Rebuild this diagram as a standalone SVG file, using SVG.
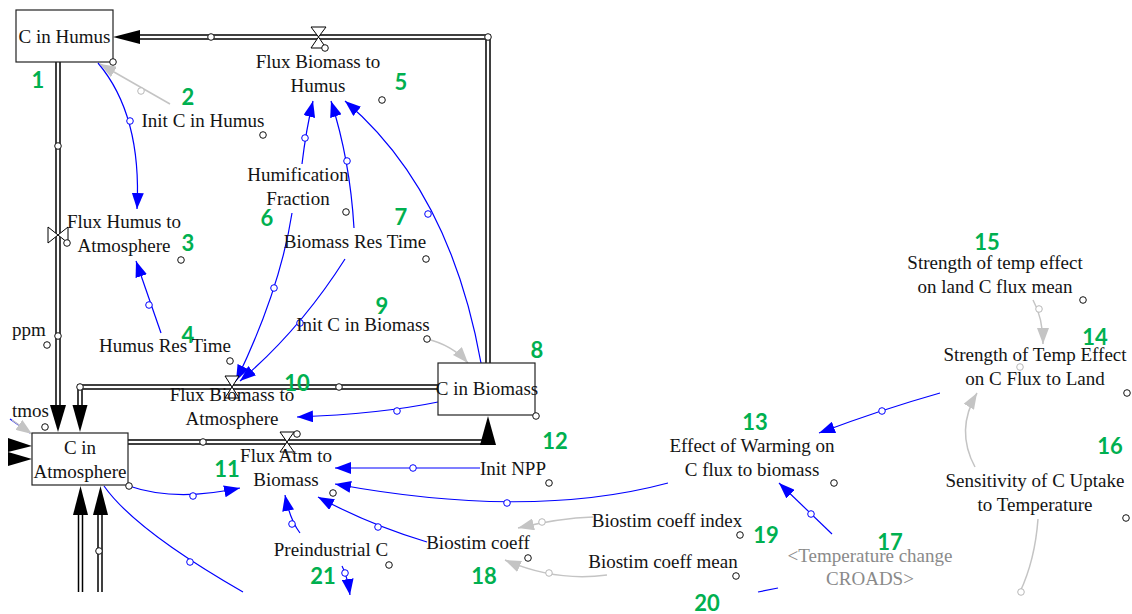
<svg xmlns="http://www.w3.org/2000/svg" width="1132" height="614" viewBox="0 0 1132 614">
<style>
.lbl{font-family:'Liberation Serif','DejaVu Serif',serif;font-size:19px;fill:#141414;text-anchor:middle}
.gt{fill:#8a8a8a}
.num{font-family:Lato,'Liberation Sans',sans-serif;font-weight:bold;font-size:22px;fill:#00b050;text-anchor:middle}
.box{fill:#fff;stroke:#222;stroke-width:1.2}
.h{fill:#fff;stroke:#111;stroke-width:1}
.hb{fill:#fff;stroke:#00f;stroke-width:1}
.hg{fill:#fff;stroke:#b8b8b8;stroke-width:1}
.blue{fill:none;stroke:#00f;stroke-width:1.2}
.gray{fill:none;stroke:#c4c4c4;stroke-width:1.5}
.po{fill:none;stroke:#000;stroke-width:5.5}
.pi{fill:none;stroke:#fff;stroke-width:2.5}
.ah{fill:#000}
.valve{fill:#fff;stroke:#000;stroke-width:1}
</style>
<defs>
<marker id="ab" viewBox="0 0 16 12" refX="16" refY="6" markerWidth="16" markerHeight="12" markerUnits="userSpaceOnUse" orient="auto"><path d="M0,0 L16,6 L0,12 z" fill="#00f"/></marker>
<marker id="ag" viewBox="0 0 16 12" refX="16" refY="6" markerWidth="16" markerHeight="12" markerUnits="userSpaceOnUse" orient="auto"><path d="M0,0 L16,6 L0,12 z" fill="#c4c4c4"/></marker>
</defs>
<rect width="1132" height="614" fill="#fff"/>

<g id="connectors">
  <polyline class="po" points="488,363 488,37 138,37"/>
  <polyline class="pi" points="488,363 488,37 138,37"/>
  <polyline class="po" points="58,62 58,407"/>
  <polyline class="pi" points="58,62 58,407"/>
  <polyline class="po" points="438,387 80,387 80,407"/>
  <polyline class="pi" points="438,387 80,387 80,407"/>
  <polyline class="po" points="128,442 488,442 488,444"/>
  <polyline class="pi" points="128,442 488,442 488,444"/>
  <polyline class="po" points="80.5,592 80.5,512"/>
  <polyline class="pi" points="80.5,592 80.5,512"/>
  <polyline class="po" points="100,592 100,512"/>
  <polyline class="pi" points="100,592 100,512"/>
  <polygon class="ah" points="113,37 140,30 140,44"/>
  <polygon class="ah" points="58,432 50,405 66,405"/>
  <polygon class="ah" points="80,432 72.5,405 87.5,405"/>
  <polygon class="ah" points="488,416 480,445 496,445"/>
  <polygon class="ah" points="80.5,486 73,515 88,515"/>
  <polygon class="ah" points="100.5,486 93,515 108,515"/>
  <polygon class="ah" points="8,438 32,446 8,452"/>
  <polygon class="ah" points="8,452 32,459 8,466"/>
  <circle class="h" cx="211" cy="37" r="3.3"/>
  <circle class="h" cx="488" cy="37" r="3.3"/>
  <circle class="h" cx="58" cy="146" r="3.3"/>
  <circle class="h" cx="58" cy="336" r="3.3"/>
  <circle class="h" cx="80" cy="387" r="3.3"/>
  <circle class="h" cx="339" cy="387" r="3.3"/>
  <circle class="h" cx="203" cy="442" r="3.3"/>
  <circle class="h" cx="99" cy="551" r="3.3"/>

  <path class="blue" marker-end="url(#ab)" d="M98,63 Q142,115 137,209"/>
  <circle class="hb" cx="130" cy="121" r="3.3"/>
  <path class="blue" marker-end="url(#ab)" d="M161,333 L136,261"/>
  <circle class="hb" cx="149" cy="305" r="3.3"/>
  <path class="blue" marker-end="url(#ab)" d="M302,164 Q306,130 313,101"/>
  <circle class="hb" cx="305" cy="138" r="3.3"/>
  <path class="blue" marker-end="url(#ab)" d="M292,213 Q280,290 236,381"/>
  <circle class="hb" cx="274" cy="288" r="3.3"/>
  <path class="blue" marker-end="url(#ab)" d="M354,228 Q350,160 331,101"/>
  <circle class="hb" cx="347" cy="161" r="3.3"/>
  <path class="blue" marker-end="url(#ab)" d="M345,259 Q300,330 240,381"/>
  <circle class="hb" cx="300" cy="323" r="3.3"/>
  <path class="blue" marker-end="url(#ab)" d="M481,363 Q450,190 345,101"/>
  <circle class="hb" cx="428" cy="214" r="3.3"/>
  <path class="blue" marker-end="url(#ab)" d="M438,402 Q380,414 297,417"/>
  <circle class="hb" cx="397" cy="411" r="3.3"/>
  <path class="blue" marker-end="url(#ab)" d="M129,486 Q175,502 240,488"/>
  <circle class="hb" cx="193" cy="496" r="3.3"/>
  <path class="blue" marker-end="url(#ab)" d="M480,468 L335,468"/>
  <circle class="hb" cx="413" cy="468" r="3.3"/>
  <path class="blue" marker-end="url(#ab)" d="M668,483 Q530,520 335,484"/>
  <circle class="hb" cx="507" cy="503" r="3.3"/>
  <path class="blue" marker-end="url(#ab)" d="M427,542 Q370,525 318,497"/>
  <circle class="hb" cx="378" cy="527" r="3.3"/>
  <path class="blue" marker-end="url(#ab)" d="M300,533 Q290,520 285,495"/>
  <circle class="hb" cx="292" cy="524" r="3.3"/>
  <path class="blue" marker-end="url(#ab)" d="M342,566 Q347,575 350,595"/>
  <circle class="hb" cx="345" cy="573" r="3.3"/>
  <path class="blue" d="M104,486 Q135,530 243,592"/>
  <circle class="hb" cx="190" cy="562" r="3.3"/>
  <path class="blue" marker-end="url(#ab)" d="M940,393 Q880,410 819,433"/>
  <circle class="hb" cx="882" cy="411" r="3.3"/>
  <path class="blue" marker-end="url(#ab)" d="M832,534 L779,483"/>
  <circle class="hb" cx="811" cy="514" r="3.3"/>
  <path class="blue" d="M758,592 L778,588"/>
  <path class="blue" d="M10,419 L30,433"/>

  <path class="gray" marker-end="url(#ag)" d="M170,104 L100,64"/>
  <circle class="hg" cx="141" cy="91" r="3.3"/>
  <path class="gray" marker-end="url(#ag)" d="M427,339 Q452,345 468,363"/>
  <path class="gray" marker-end="url(#ag)" d="M593,517 Q560,518 518,528"/>
  <circle class="hg" cx="542" cy="522" r="3.3"/>
  <path class="gray" marker-end="url(#ag)" d="M607,575 Q555,582 505,560"/>
  <circle class="hg" cx="549" cy="573" r="3.3"/>
  <path class="gray" marker-end="url(#ag)" d="M1033,300 Q1043,318 1043,344"/>
  <circle class="hg" cx="1039" cy="309" r="3.3"/>
  <path class="gray" marker-end="url(#ag)" d="M975,467 Q955,430 977,393"/>
  <circle class="hg" cx="1020" cy="367" r="3.3"/>
  <path class="gray" d="M1038,519 Q1035,560 1020,592"/>
  <circle class="hg" cx="1021" cy="592" r="3.3"/>
  <path class="gray" marker-end="url(#ag)" d="M12,420 L32,434"/>
</g>

<g font-family="'Liberation Serif', 'DejaVu Serif', serif">
<g id="n1">
  <rect class="box" x="16" y="10" width="97" height="52"/>
  <text class="lbl" x="64.5" y="43">C in Humus</text>
  <circle class="h" cx="113" cy="62" r="3.3"/>
  <text class="num" x="38" y="88">1</text>
</g>
<g id="n2">
  <text class="lbl" x="203" y="127">Init C in Humus</text>
  <circle class="h" cx="263" cy="135" r="3.3"/>
  <text class="num" x="188" y="105">2</text>
</g>
<g id="n3">
  <polygon class="valve" points="48,227 48,243 58,235"/>
  <polygon class="valve" points="68,227 68,243 58,235"/>
  <circle class="h" cx="67" cy="243" r="3.3"/>
  <text class="lbl" x="124" y="228">Flux Humus to</text>
  <text class="lbl" x="124" y="252">Atmosphere</text>
  <circle class="h" cx="181" cy="260" r="3.3"/>
  <text class="num" x="188" y="251">3</text>
</g>
<g id="n4">
  <text class="lbl" x="165" y="352">Humus Res Time</text>
  <circle class="h" cx="230" cy="361" r="3.3"/>
  <text class="num" x="188" y="343">4</text>
</g>
<g id="n5">
  <polygon class="valve" points="311,27 326,27 318.5,37"/>
  <polygon class="valve" points="311,48 326,48 318.5,37"/>
  <circle class="h" cx="325" cy="48" r="3.3"/>
  <text class="lbl" x="318" y="68">Flux Biomass to</text>
  <text class="lbl" x="318" y="92">Humus</text>
  <circle class="h" cx="382" cy="100" r="3.3"/>
  <text class="num" x="401" y="90">5</text>
</g>
<g id="n6">
  <text class="lbl" x="298" y="181">Humification</text>
  <text class="lbl" x="298" y="205">Fraction</text>
  <circle class="h" cx="346" cy="212" r="3.3"/>
  <text class="num" x="267" y="226">6</text>
</g>
<g id="n7">
  <text class="lbl" x="355" y="248">Biomass Res Time</text>
  <circle class="h" cx="426" cy="259" r="3.3"/>
  <text class="num" x="401" y="225">7</text>
</g>
<g id="n8">
  <rect class="box" x="438" y="363" width="97" height="52"/>
  <text class="lbl" x="487" y="395">C in Biomass</text>
  <circle class="h" cx="536" cy="416" r="3.3"/>
  <text class="num" x="537" y="358">8</text>
</g>
<g id="n9">
  <text class="lbl" x="363" y="331">Init C in Biomass</text>
  <circle class="h" cx="427" cy="339" r="3.3"/>
  <text class="num" x="382" y="314">9</text>
</g>
<g id="n10">
  <polygon class="valve" points="225,376 239,376 232,387"/>
  <polygon class="valve" points="225,398 239,398 232,387"/>
  <text class="lbl" x="232" y="401">Flux Biomass to</text>
  <text class="lbl" x="232" y="425">Atmosphere</text>
  <text class="num" x="297" y="391">10</text>
</g>
<g id="atm">
  <rect class="box" x="32" y="433" width="96" height="52"/>
  <text class="lbl" x="80" y="454">C in</text>
  <text class="lbl" x="80" y="478">Atmosphere</text>
  <circle class="h" cx="129" cy="486" r="3.3"/>
</g>
<g id="n11">
  <polygon class="valve" points="280,432 294,432 287,442"/>
  <polygon class="valve" points="280,452 294,452 287,442"/>
  <circle class="h" cx="297" cy="434" r="3.3"/>
  <text class="lbl" x="286" y="462">Flux Atm to</text>
  <text class="lbl" x="286" y="486">Biomass</text>
  <circle class="h" cx="333" cy="493" r="3.3"/>
  <text class="num" x="227" y="477">11</text>
</g>
<g id="n12">
  <text class="lbl" x="513" y="475">Init NPP</text>
  <circle class="h" cx="549" cy="483" r="3.3"/>
  <text class="num" x="555" y="449">12</text>
</g>
<g id="n13">
  <text class="lbl" x="752" y="452">Effect of Warming on</text>
  <text class="lbl" x="752" y="476">C flux to biomass</text>
  <circle class="h" cx="834" cy="483" r="3.3"/>
  <text class="num" x="755" y="430">13</text>
</g>
<g id="n14">
  <text class="lbl" x="1035" y="361">Strength of Temp Effect</text>
  <text class="lbl" x="1035" y="385">on C Flux to Land</text>
  <circle class="h" cx="1127" cy="393" r="3.3"/>
  <text class="num" x="1095" y="345">14</text>
</g>
<g id="n15">
  <text class="lbl" x="995" y="269">Strength of temp effect</text>
  <text class="lbl" x="995" y="293">on land C flux mean</text>
  <circle class="h" cx="1083" cy="300" r="3.3"/>
  <text class="num" x="987" y="250">15</text>
</g>
<g id="n16">
  <text class="lbl" x="1035" y="487">Sensitivity of C Uptake</text>
  <text class="lbl" x="1035" y="511">to Temperature</text>
  <circle class="h" cx="1126" cy="518" r="3.3"/>
  <text class="num" x="1110" y="454">16</text>
</g>
<g id="n17">
  <text class="lbl gt" x="870" y="562">&lt;Temperature change</text>
  <text class="lbl gt" x="870" y="585">CROADS&gt;</text>
  <text class="num" x="890" y="550">17</text>
</g>
<g id="n18">
  <text class="lbl" x="478" y="549">Biostim coeff</text>
  <circle class="h" cx="528" cy="558" r="3.3"/>
  <text class="num" x="484" y="584">18</text>
</g>
<g id="n19">
  <text class="lbl" x="667" y="527">Biostim coeff index</text>
  <circle class="h" cx="740" cy="535" r="3.3"/>
  <text class="num" x="766" y="543">19</text>
</g>
<g id="n20">
  <text class="lbl" x="663" y="568">Biostim coeff mean</text>
  <circle class="h" cx="736" cy="576" r="3.3"/>
  <text class="num" x="707" y="611">20</text>
</g>
<g id="n21">
  <text class="lbl" x="331" y="556">Preindustrial C</text>
  <circle class="h" cx="389" cy="565" r="3.3"/>
  <text class="num" x="323" y="584">21</text>
</g>
<g id="edge-labels">
  <text class="lbl" x="12" y="336" style="text-anchor:start">ppm</text>
  <circle class="h" cx="47" cy="345" r="3.3"/>
  <text class="lbl" x="12" y="417" style="text-anchor:start">tmos</text>
  <circle class="h" cx="45" cy="427" r="3.3"/>
</g>
</g>
</svg>
